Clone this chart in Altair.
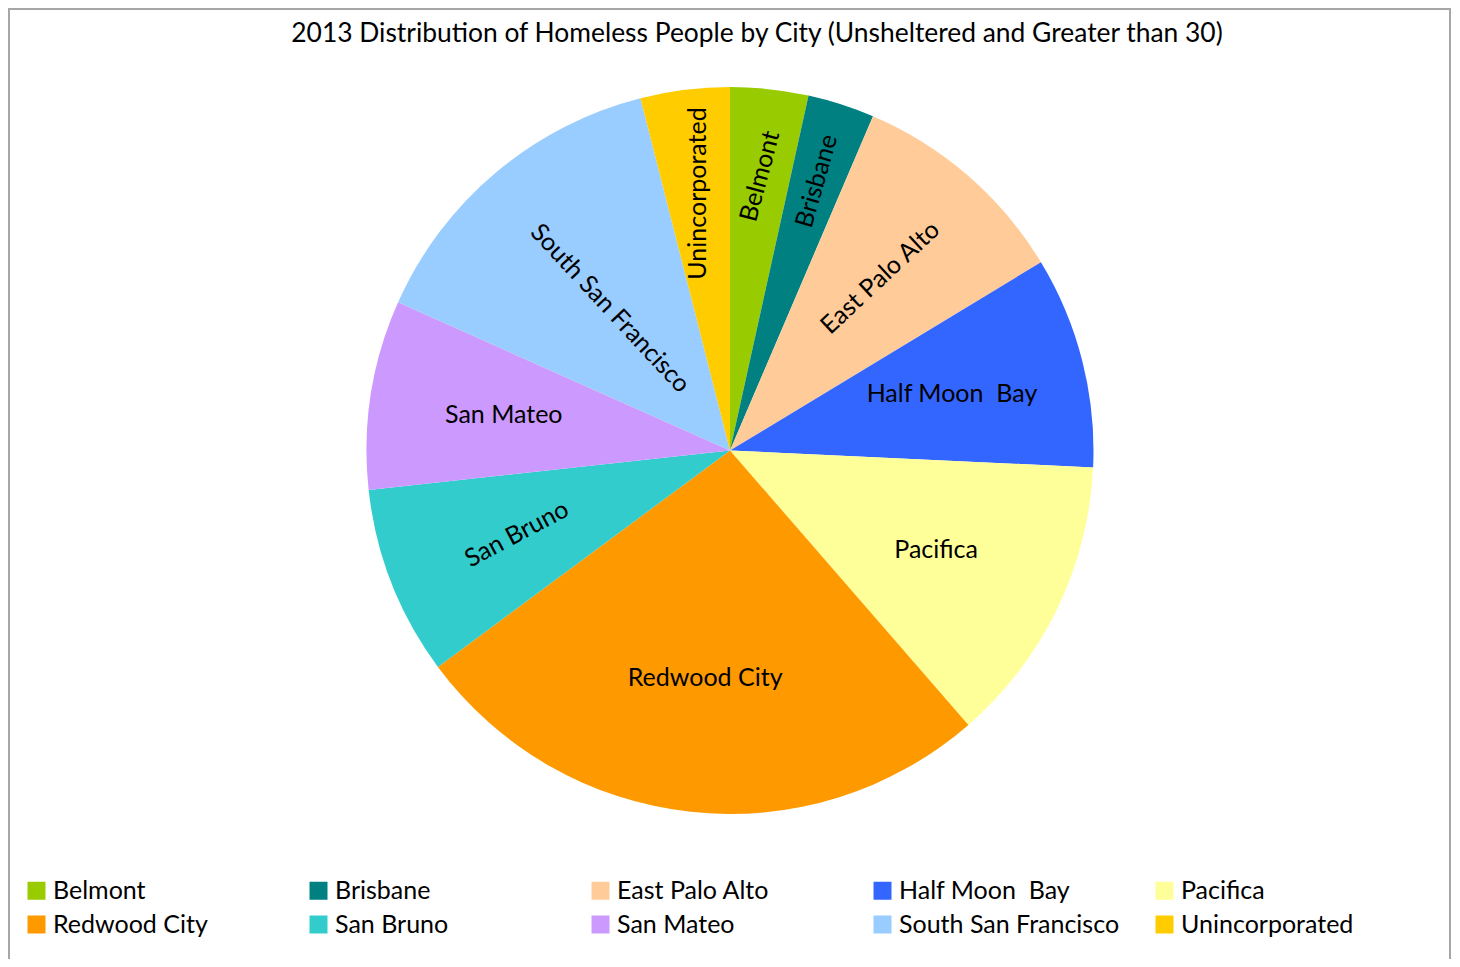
import altair as alt
import pandas as pd

# ---- data ----
cities = ["Belmont", "Brisbane", "East Palo Alto", "Half Moon\u00a0 Bay", "Pacifica",
          "Redwood City", "San Bruno", "San Mateo", "South San Francisco", "Unincorporated"]
counts = [7, 6, 20, 19, 26, 53, 17, 17, 29, 8]
colors = ["#99CC00", "#008080", "#FFCC99", "#3366FF", "#FFFF99",
          "#FF9900", "#33CCCC", "#CC99FF", "#99CCFF", "#FFCC00"]
title_text = "2013 Distribution of Homeless People by City (Unsheltered and Greater than 30)"

# ---- label styling (rotation in degrees, distance from centre) ----
label_rotation = {"Belmont": 285, "Brisbane": 286, "East Palo Alto": 317,
                  "San Bruno": 332, "South San Francisco": 47, "Unincorporated": 270}
label_radius = {"Belmont": 276, "Brisbane": 283, "South San Francisco": 186,
                "Unincorporated": 259}
DEFAULT_LABEL_R = 229

df = pd.DataFrame({"city": cities, "count": counts, "order": list(range(len(cities)))})
df["rot"] = [label_rotation.get(c, 0) for c in cities]
df["r"] = [label_radius.get(c, DEFAULT_LABEL_R) for c in cities]
title_df = pd.DataFrame({"t": [title_text]})

W, H = 1443, 951
CX, CY = 722, 442.5
R = 363.5
FONT = "Lato"
FS = 25

pie = alt.Chart(df).mark_arc(radius=R).encode(
    theta=alt.Theta("count:Q", stack=True),
    order=alt.Order("order:Q"),
    x=alt.value(CX), y=alt.value(CY),
    color=alt.Color(
        "city:N", sort=cities,
        scale=alt.Scale(domain=cities, range=colors),
        legend=alt.Legend(
            orient="none", legendX=16, legendY=870, direction="horizontal",
            columns=5, title=None, symbolType="square", symbolSize=324,
            symbolStrokeWidth=0, symbolOpacity=1, labelFont=FONT, labelFontSize=FS,
            labelColor="black", labelOffset=4, columnPadding=32, rowPadding=8,
            gridAlign="all", labelLimit=400, padding=0,
        ),
    ),
)

# label angles: middle of each slice, computed from the same counts
labels = alt.Chart(df).transform_joinaggregate(
    total="sum(count)"
).transform_window(
    cum="sum(count)", sort=[alt.SortField("order")], frame=[None, 0]
).transform_calculate(
    mid="(datum.cum - datum.count / 2) / datum.total * 2 * PI"
).mark_text(font=FONT, fontSize=FS, color="black",
            align="center", baseline="middle").encode(
    x=alt.value(CX), y=alt.value(CY),
    theta=alt.Theta("mid:Q", scale=None, stack=None),
    radius=alt.Radius("r:Q", scale=None),
    angle=alt.Angle("rot:Q", scale=None),
    text="city:N",
)

title = alt.Chart(title_df).mark_text(font=FONT, fontSize=26.4, fontWeight="normal",
                                      color="black", align="center",
                                      baseline="middle").encode(
    x=alt.value(749), y=alt.value(26), text="t:N")

border_style = dict(color="#A6A6A6", strokeWidth=2)
left = alt.Chart(title_df).mark_rule(**border_style).encode(
    x=alt.value(1), y=alt.value(0), y2=alt.value(H + 20))
right = alt.Chart(title_df).mark_rule(**border_style).encode(
    x=alt.value(W - 1), y=alt.value(0), y2=alt.value(H + 20))
top = alt.Chart(title_df).mark_rule(**border_style).encode(
    x=alt.value(0), x2=alt.value(W), y=alt.value(1))

chart = alt.layer(left, right, top, pie, labels, title).properties(
    width=W, height=H, padding=0,
    autosize=alt.AutoSizeParams(type="none"),
).configure_view(strokeWidth=0).configure(background="white")

chart.save("out.html", embed_options={"renderer": "svg", "actions": False})
